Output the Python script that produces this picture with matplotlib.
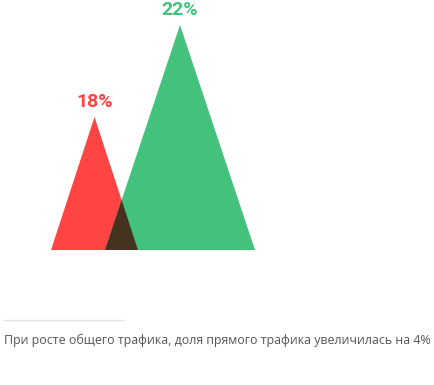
import matplotlib
matplotlib.use("Agg")
import matplotlib.pyplot as plt
from matplotlib.patches import Polygon
from matplotlib import font_manager
import numpy as np

# Data
labels = ["18%", "22%"]
values = [18, 22]
colors = ["#FF4444", "#44C17D"]
caption = "При росте общего трафика, доля прямого трафика увеличилась на 4%"

# Geometry (pixel-like coordinates)
centers = [94.5, 180]
half_widths = [43.5, 75]
heights = [133, 225]
base_y = 250

names = {f.name for f in font_manager.fontManager.ttflist}
label_family = "Liberation Sans Narrow" if "Liberation Sans Narrow" in names else "Roboto"

fig = plt.figure(figsize=(4.35, 3.85), dpi=100)
ax = fig.add_axes([0, 0, 1, 1])
ax.set_xlim(0, 435)
ax.set_ylim(385, 0)
ax.axis("off")

polys = []
for c, hw, h, col in zip(centers, half_widths, heights, colors):
    pts = [(c - hw, base_y), (c, base_y - h), (c + hw, base_y)]
    p = Polygon(pts, closed=True, facecolor=col, edgecolor="none")
    ax.add_patch(p)
    polys.append((pts, p))

# overlap: multiply blend
c1 = np.array(matplotlib.colors.to_rgb(colors[0]))
c2 = np.array(matplotlib.colors.to_rgb(colors[1]))
mult = c1 * c2
ov = Polygon(polys[0][0], closed=True, facecolor=mult, edgecolor="none")
ax.add_patch(ov)
ov.set_clip_path(polys[1][1])

for c, h, lab, col in zip(centers, heights, labels, colors):
    ax.text(c, base_y - h - 10, lab, ha="center", va="baseline", color=col,
            fontsize=14, fontweight="bold", family=label_family)

ax.plot([4, 124], [320, 320], color="#e3e3e3", lw=1)
ax.text(4, 340, caption, ha="left", va="center", color="#555555",
        fontsize=8.95, family="Open Sans")

fig.savefig("out.png", dpi=100)
